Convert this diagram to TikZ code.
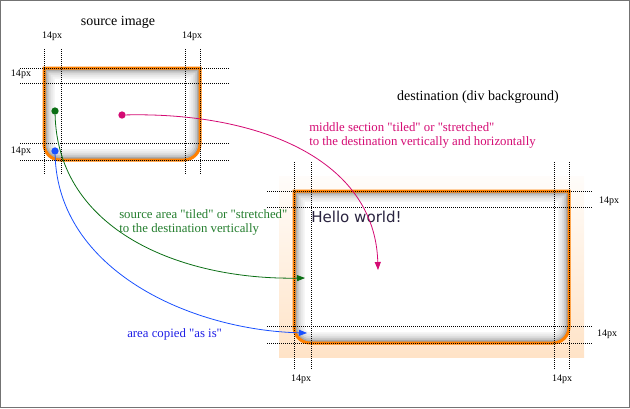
\documentclass[tikz,border=0pt]{standalone}
\usepackage{fontspec}
\setmainfont{Liberation Serif}[Ligatures=TeXOff]
\newfontfamily\hellofont{DejaVu Sans}
\usetikzlibrary{arrows.meta}
\usepackage{xcolor}
\definecolor{frameorange}{RGB}{255,128,0}
\definecolor{midmagenta}{RGB}{212,10,115}
\definecolor{sidegreen}{RGB}{10,110,20}
\definecolor{sidegreentext}{RGB}{35,125,45}
\definecolor{cornerblue}{RGB}{25,80,255}
\definecolor{cornerbluetext}{RGB}{30,30,230}
\definecolor{hellotext}{RGB}{42,36,64}

\begin{document}
\begin{tikzpicture}[x=0.75pt, y=-0.75pt,
    every node/.style={inner sep=0pt},
    guide/.style={dash pattern=on 0.75pt off 0.75pt, line width=0.55pt},
    pxlabel/.style={font=\fontsize{7.5}{9}\selectfont},
    title/.style={font=\fontsize{10.5}{12}\selectfont},
    note/.style={font=\fontsize{9.6}{10.5}\selectfont, align=left, anchor=west},
    dot/.style={circle, minimum size=5.5pt},
    tip/.style={-{Triangle[length=6pt, width=4.5pt]}, line width=0.6pt}
]
    \useasboundingbox (0,0) rectangle (630,408);
    \draw[black!55, line width=0.75pt] (0.5,0.5) rectangle (629.5,407.5);

    \path[save path=\srcbox]
        (44,68) [rounded corners=12] -- (44,160) -- (200,160) [sharp corners] -- (200,68) -- cycle;
    \path[save path=\dstbox]
        (294,191) [rounded corners=12] -- (294,343) -- (569,343) [sharp corners] -- (569,191) -- cycle;

    \shade[top color=frameorange!2, bottom color=frameorange!22] (279,176) rectangle (584,357);

    \fill[white, use path=\srcbox];
    \fill[white, use path=\dstbox];
    \begin{scope}
        \clip[use path=\srcbox];
        \foreach \w/\g in {16/5, 13/9, 10/15, 7/23, 4.5/33, 2/44}
            \draw[black!\g, line width=\w pt, use path=\srcbox];
    \end{scope}
    \begin{scope}
        \clip[use path=\dstbox];
        \foreach \w/\g in {16/5, 13/9, 10/15, 7/23, 4.5/33, 2/44}
            \draw[black!\g, line width=\w pt, use path=\dstbox];
    \end{scope}
    \draw[frameorange, line width=2.25pt, use path=\srcbox];
    \draw[frameorange, line width=2.25pt, use path=\dstbox];

    \foreach \x in {44, 61, 185, 200}
        \draw[guide] (\x,49) -- (\x,175);
    \foreach \y in {68, 83, 143, 160}
        \draw[guide] (20,\y) -- (229,\y);
    \foreach \x in {294, 311, 554, 569}
        \draw[guide] (\x,162) -- (\x,370);
    \foreach \y in {191, 207, 326, 343}
        \draw[guide] (267,\y) -- (593,\y);

    \node (source_image) [title] at (118,22) {source image};
    \node (destination) [title] at (478,97) {destination (div background)};

    \node (src_px_left) [pxlabel] at (52,36) {14px};
    \node (src_px_right) [pxlabel] at (192,36) {14px};
    \node (src_px_top) [pxlabel] at (21,74) {14px};
    \node (src_px_bottom) [pxlabel] at (21,151) {14px};
    \node (dst_px_top) [pxlabel] at (609,201) {14px};
    \node (dst_px_bottom) [pxlabel] at (607,334) {14px};
    \node (dst_px_left) [pxlabel] at (301,379) {14px};
    \node (dst_px_right) [pxlabel] at (562,379) {14px};

    \node (hello_world) [anchor=west, text=hellotext, font=\hellofont\fontsize{11.3}{13}\selectfont] at (311,217)
    {
        Hello world!
    };

    \node (middle_note) [note, text=midmagenta] at (309,135)
    {
        middle section "tiled" or "stretched"\\
        to the destination vertically and horizontally
    };
    \node (side_note) [note, text=sidegreentext] at (119,222)
    {
        source area "tiled" or "stretched"\\
        to the destination vertically
    };
    \node (corner_note) [note, text=cornerbluetext] at (127,334)
    {
        area copied "as is"
    };

    \node (middle_dot) [dot, fill=midmagenta] at (122,115) {};
    \node (side_dot) [dot, fill=sidegreen] at (55,111) {};
    \node (corner_dot) [dot, fill=cornerblue] at (55,151) {};

    \coordinate (middle_end) at (378,270);
    \coordinate (side_end) at (305,278);
    \coordinate (corner_end) at (307,333);

    \draw[tip, midmagenta] (middle_dot) .. controls (260,112) and (375,160) .. (middle_end);
    \draw[tip, sidegreen] (side_dot) .. controls (58,230) and (180,280) .. (side_end);
    \draw[tip, cornerblue] (corner_dot) .. controls (58,270) and (190,330) .. (corner_end);
\end{tikzpicture}
\end{document}
